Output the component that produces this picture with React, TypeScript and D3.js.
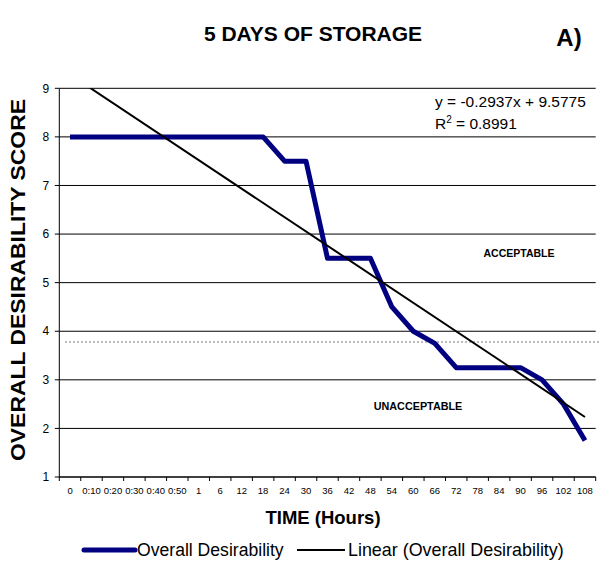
import React from "react";
import * as d3 from "d3";

const categories = ["0", "0:10", "0:20", "0:30", "0:40", "0:50", "1", "6", "12", "18", "24", "30", "36", "42", "48", "54", "60", "66", "72", "78", "84", "90", "96", "102", "108"];
const desirability = [8, 8, 8, 8, 8, 8, 8, 8, 8, 8, 7.5, 7.5, 5.5, 5.5, 5.5, 4.5, 4.0, 3.75, 3.25, 3.25, 3.25, 3.25, 3.0, 2.5, 1.75];
const yTicks = [1, 2, 3, 4, 5, 6, 7, 8, 9];
const trendSlope = -0.2937;
const trendIntercept = 9.5775;
const rSquared = 0.8991;
const thresholdValue = 3.78;

const W = 599;
const H = 563;
const FONT = "Arial, 'Liberation Sans', Helvetica, sans-serif";

export default function App() {
  const left = 59.3;
  const right = 595.7;
  const top = 88.3;
  const bottom = 477;

  const x = d3.scaleBand<string>().domain(categories).range([left, right]).padding(0);
  const y = d3.scaleLinear().domain([1, 9]).range([bottom, top]);
  const cx = (i: number) => (x(categories[i]) as number) + x.bandwidth() / 2;

  const line = d3
    .line<number>()
    .x((_, i) => cx(i))
    .y((d) => y(d));

  const trendPts = [1, categories.length].map((n) => [cx(n - 1), y(trendSlope * n + trendIntercept)]);
  const trendPath = d3.line()(trendPts as [number, number][]) as string;

  const boundaries = d3.range(categories.length + 1).map((i) => left + i * x.step());

  return (
    <div style={{ position: "absolute", left: 0, top: 0 }}>
      <svg width={W} height={H} style={{ display: "block", background: "#fff" }} fontFamily={FONT}>
        <defs>
          <clipPath id="plot">
            <rect x={left} y={top} width={right - left} height={bottom - top} />
          </clipPath>
        </defs>
        <text x={313} y={41} textAnchor="middle" fontWeight="bold" fontSize={21}>
          5 DAYS OF STORAGE
        </text>
        <text x={569} y={46} textAnchor="middle" fontWeight="bold" fontSize={24}>
          A)
        </text>

        {/* gridlines */}
        {yTicks.map((t) => (
          <line key={t} x1={left} x2={right} y1={y(t)} y2={y(t)} stroke="#000" strokeWidth={1} />
        ))}
        {/* threshold dotted line */}
        <line
          x1={left + 6}
          x2={W}
          y1={y(thresholdValue)}
          y2={y(thresholdValue)}
          stroke="#888"
          strokeWidth={1.5}
          strokeDasharray="1.5,2.5"
        />

        {/* axes */}
        <line x1={left} x2={left} y1={top} y2={bottom} stroke="#000" strokeWidth={1} />
        <line x1={left} x2={right} y1={bottom} y2={bottom} stroke="#000" strokeWidth={1} />
        {yTicks.map((t) => (
          <g key={"yt" + t}>
            <line x1={left - 4.5} x2={left} y1={y(t)} y2={y(t)} stroke="#000" />
            <text x={left - 10} y={y(t)} dy="0.35em" textAnchor="end" fontSize={12}>
              {t}
            </text>
          </g>
        ))}
        {boundaries.map((b, i) => (
          <line key={"xt" + i} x1={b} x2={b} y1={bottom} y2={bottom + 4} stroke="#000" />
        ))}
        {categories.map((c, i) => (
          <text key={"xl" + i} x={cx(i)} y={bottom + 16.5} textAnchor="middle" fontSize={9.5}>
            {c}
          </text>
        ))}

        {/* series */}
        <path d={line(desirability) as string} fill="none" stroke="#000080" strokeWidth={5} strokeLinejoin="round" />
        <path d={trendPath} clipPath="url(#plot)" fill="none" stroke="#000" strokeWidth={2} />

        {/* annotations */}
        <text x={435} y={107} fontSize={15.5}>
          y = {trendSlope}x + {trendIntercept}
        </text>
        <text x={435} y={129} fontSize={15.5}>
          R<tspan dy={-6} fontSize={10}>2</tspan>
          <tspan dy={6}> = {rSquared}</tspan>
        </text>
        <text x={519} y={253} dy="0.35em" textAnchor="middle" fontWeight="bold" fontSize={10.5}>
          ACCEPTABLE
        </text>
        <text x={418} y={406} dy="0.35em" textAnchor="middle" fontWeight="bold" fontSize={10.8}>
          UNACCEPTABLE
        </text>

        {/* axis titles */}
        <text
          transform={`translate(18,280) rotate(-90)`}
          textAnchor="middle"
          dy="0.35em"
          fontWeight="bold"
          fontSize={20}
          textLength={362}
          lengthAdjust="spacingAndGlyphs"
        >
          OVERALL DESIRABILITY SCORE
        </text>
        <text x={323} y={518} dy="0.35em" textAnchor="middle" fontWeight="bold" fontSize={18.5}>
          TIME (Hours)
        </text>

        {/* legend */}
        <line x1={84} x2={135} y1={550} y2={550} stroke="#000080" strokeWidth={5} strokeLinecap="round" />
        <text x={137} y={550} dy="0.35em" fontSize={17.6}>
          Overall Desirability
        </text>
        <line x1={297} x2={345} y1={550} y2={550} stroke="#000" strokeWidth={2} />
        <text x={348} y={550} dy="0.35em" fontSize={17.9}>
          Linear (Overall Desirability)
        </text>
      </svg>
    </div>
  );
}
